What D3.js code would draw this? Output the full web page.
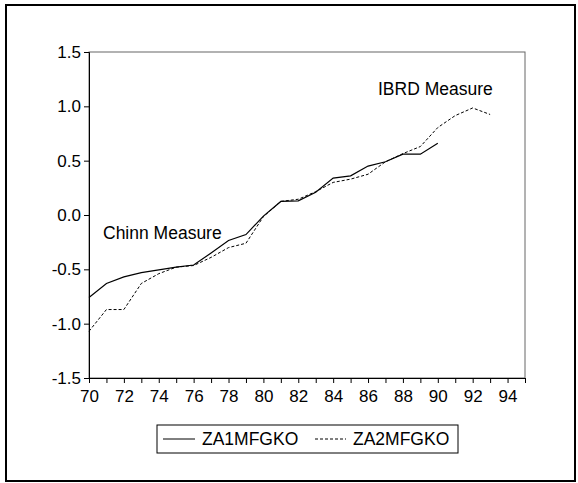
<!DOCTYPE html>
<html lang="en">
<head>
  <meta charset="UTF-8">
  <script src="https://cdn.jsdelivr.net/npm/d3@7/dist/d3.min.js"></script>
  <title>ZA1MFGKO vs ZA2MFGKO</title>
  <style>
    body { margin: 0; background: white; }
    text { font-family: 'Liberation Sans', Arial, sans-serif; fill: black; }
    .ticks_text { font-size: 17px; }
    .label_text { font-size: 17.5px; }
    .legend_text { font-size: 17.5px; }
  </style>
</head>
<body>
<div id="chart"></div>
<script>
  // data
  var years1 = d3.range(1970, 1991).map(function(y){ return y - 1900; });
  var za1 = [-0.76, -0.63, -0.57, -0.53, -0.505, -0.48, -0.46, -0.35, -0.235, -0.18, -0.01,
             0.125, 0.13, 0.21, 0.34, 0.36, 0.45, 0.49, 0.56, 0.56, 0.66];
  var years2 = d3.range(1970, 1994).map(function(y){ return y - 1900; });
  var za2 = [-1.07, -0.87, -0.87, -0.63, -0.54, -0.48, -0.465, -0.39, -0.30, -0.26, -0.015,
             0.125, 0.145, 0.215, 0.30, 0.33, 0.375, 0.49, 0.565, 0.63, 0.805, 0.915, 0.985, 0.925];
  var yTicks = [-1.5, -1.0, -0.5, 0.0, 0.5, 1.0, 1.5];
  var xLabels = [70, 72, 74, 76, 78, 80, 82, 84, 86, 88, 90, 92, 94];
  var seriesNames = ["ZA1MFGKO", "ZA2MFGKO"];

  var W = 578, H = 483;
  var plotLeft = 89, plotRight = 525, plotTop = 52, plotBottom = 378;

  var svg = d3.select("#chart").append("svg")
    .attr("width", W).attr("height", H);

  // outer frame
  svg.append("rect")
    .attr("x", 6).attr("y", 5)
    .attr("width", 569).attr("height", 476)
    .style("fill", "none").style("stroke", "black").style("stroke-width", 2);

  var xScale = d3.scaleLinear().domain([70, 95]).range([plotLeft, plotRight]);
  var yScale = d3.scaleLinear().domain([-1.5, 1.5]).range([plotBottom, plotTop]);

  // plot box
  svg.append("rect")
    .attr("x", plotLeft).attr("y", plotTop)
    .attr("width", plotRight - plotLeft).attr("height", plotBottom - plotTop)
    .style("fill", "none").style("stroke", "#666").style("stroke-width", 1);

  // y axis (plain hyphen for negatives, like the original)
  var yAxis = svg.append("g")
    .attr("transform", "translate(" + plotLeft + ",0)")
    .call(d3.axisLeft(yScale).tickValues(yTicks)
      .tickFormat(function(d){ return d.toFixed(1); })
      .tickSize(5).tickPadding(3));
  yAxis.select(".domain").style("stroke", "black");
  yAxis.selectAll("text").attr("class", "ticks_text").style("font-size", "17px").style("font-family", null);

  // x axis: minor ticks each year, labels every 2
  var xAxis = svg.append("g")
    .attr("transform", "translate(0," + plotBottom + ")")
    .call(d3.axisBottom(xScale).tickValues(d3.range(70, 96))
      .tickFormat(function(d){ return xLabels.indexOf(d) >= 0 ? d : ""; })
      .tickSize(5).tickPadding(7));
  xAxis.select(".domain").style("stroke", "black");
  xAxis.selectAll("text").attr("class", "ticks_text").style("font-size", "17px").style("font-family", null);

  var line = d3.line()
    .x(function(d){ return xScale(d[0]); })
    .y(function(d){ return yScale(d[1]); });

  svg.append("path")
    .datum(years1.map(function(y, i){ return [y, za1[i]]; }))
    .attr("d", line)
    .style("fill", "none").style("stroke", "black").style("stroke-width", 1.2);

  svg.append("path")
    .datum(years2.map(function(y, i){ return [y, za2[i]]; }))
    .attr("d", line)
    .style("fill", "none").style("stroke", "black").style("stroke-width", 1)
    .style("stroke-dasharray", "3,2");

  // annotations
  svg.append("text").attr("class", "label_text")
    .attr("x", 103).attr("y", 239).text("Chinn Measure");
  svg.append("text").attr("class", "label_text")
    .attr("x", 378).attr("y", 95).text("IBRD Measure");

  // legend
  var lg = svg.append("g");
  lg.append("rect")
    .attr("x", 157).attr("y", 425).attr("width", 301).attr("height", 28)
    .style("fill", "none").style("stroke", "black").style("stroke-width", 1);
  lg.append("line").attr("x1", 163).attr("x2", 195).attr("y1", 439).attr("y2", 439)
    .style("stroke", "black");
  lg.append("text").attr("class", "legend_text").attr("x", 202).attr("y", 445).text(seriesNames[0]);
  lg.append("line").attr("x1", 315).attr("x2", 346).attr("y1", 439).attr("y2", 439)
    .style("stroke", "black").style("stroke-dasharray", "3,2");
  lg.append("text").attr("class", "legend_text").attr("x", 353).attr("y", 445).text(seriesNames[1]);
</script>
</body>
</html>
